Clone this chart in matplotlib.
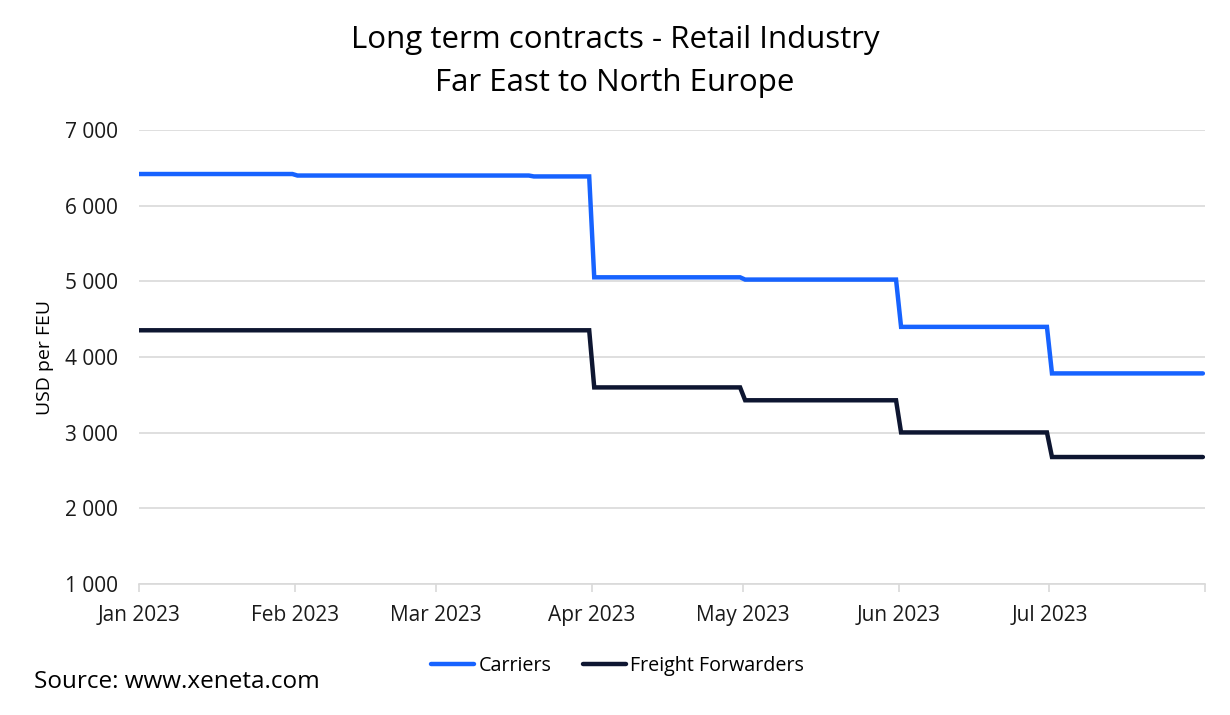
import matplotlib
matplotlib.use('Agg')
import matplotlib.pyplot as plt
from matplotlib.ticker import FuncFormatter
import pandas as pd

plt.rcParams['font.family'] = ['Open Sans', 'DejaVu Sans']

# Data (step changes)
carrier_dates = ['2023-01-01 00:00', '2023-01-31 12:00', '2023-02-01 12:00', '2023-03-19 12:00',
                 '2023-03-20 12:00', '2023-03-31 12:00', '2023-04-01 12:00',
                 '2023-04-30 12:00', '2023-05-01 12:00', '2023-05-31 12:00',
                 '2023-06-01 12:00', '2023-06-30 12:00', '2023-07-01 12:00', '2023-07-31 12:00']
carrier_values = [6420, 6420, 6400, 6400, 6388, 6388, 5055, 5055, 5025, 5025,
                  4400, 4400, 3785, 3785]

ff_dates = ['2023-01-01 00:00', '2023-03-31 12:00', '2023-04-01 12:00', '2023-04-30 12:00',
            '2023-05-01 12:00', '2023-05-31 12:00', '2023-06-01 12:00',
            '2023-06-30 12:00', '2023-07-01 12:00', '2023-07-31 12:00']
ff_values = [4355, 4355, 3600, 3600, 3430, 3430, 3005, 3005, 2680, 2680]

month_ticks = ['2023-01-01', '2023-02-01', '2023-03-01', '2023-04-01', '2023-05-01',
               '2023-06-01', '2023-07-01', '2023-08-01']
month_labels = ['Jan 2023', 'Feb 2023', 'Mar 2023', 'Apr 2023', 'May 2023',
                'Jun 2023', 'Jul 2023', '']

carriers = pd.Series(carrier_values, index=pd.to_datetime(carrier_dates, format='%Y-%m-%d %H:%M'))
forwarders = pd.Series(ff_values, index=pd.to_datetime(ff_dates, format='%Y-%m-%d %H:%M'))

fig = plt.figure(figsize=(12.3, 7.15), dpi=100)
ax = fig.add_axes([0.113, 0.183, 0.867, 0.635])

ax.plot(carriers.index, carriers.values, color='#1763ff', lw=3.2,
        solid_capstyle='round', solid_joinstyle='miter', label='Carriers')
ax.plot(forwarders.index, forwarders.values, color='#0e1631', lw=3.2,
        solid_capstyle='round', solid_joinstyle='miter', label='Freight Forwarders')

ax.set_xlim(pd.Timestamp('2023-01-01'), pd.Timestamp('2023-08-01'))
ax.set_ylim(1000, 7000)
ax.set_yticks(range(1000, 7001, 1000))
ax.yaxis.set_major_formatter(FuncFormatter(lambda v, p: f'{v:,.0f}'.replace(',', ' ')))
ax.set_xticks(pd.to_datetime(month_ticks))
ax.set_xticklabels(month_labels)

ax.grid(axis='y', color='#d9d9d9', lw=1.2)
ax.set_axisbelow(True)
for s in ['top', 'right', 'left']:
    ax.spines[s].set_visible(False)
ax.spines['bottom'].set_color('#d9d9d9')
ax.spines['bottom'].set_linewidth(1.2)
ax.tick_params(axis='y', length=0, pad=15, labelsize=15, labelcolor='#1a1a1a')
ax.tick_params(axis='x', length=6, color='#d9d9d9', width=1.2, pad=9,
               labelsize=15, labelcolor='#1a1a1a')
ax.set_ylabel('USD per FEU', fontsize=14, labelpad=8)

fig.text(0.5, 0.944, 'Long term contracts - Retail Industry', ha='center', va='center',
         fontsize=22.5)
fig.text(0.5, 0.884, 'Far East to North Europe', ha='center', va='center', fontsize=22.5)

fig.legend(loc='center', bbox_to_anchor=(0.502, 0.068), ncol=2, frameon=False,
           fontsize=14.2, handlelength=2.2, handletextpad=0.2, columnspacing=1.6)
fig.text(0.028, 0.046, 'Source: www.xeneta.com', ha='left', va='center', fontsize=17.5)

fig.savefig('out.png', dpi=100)
